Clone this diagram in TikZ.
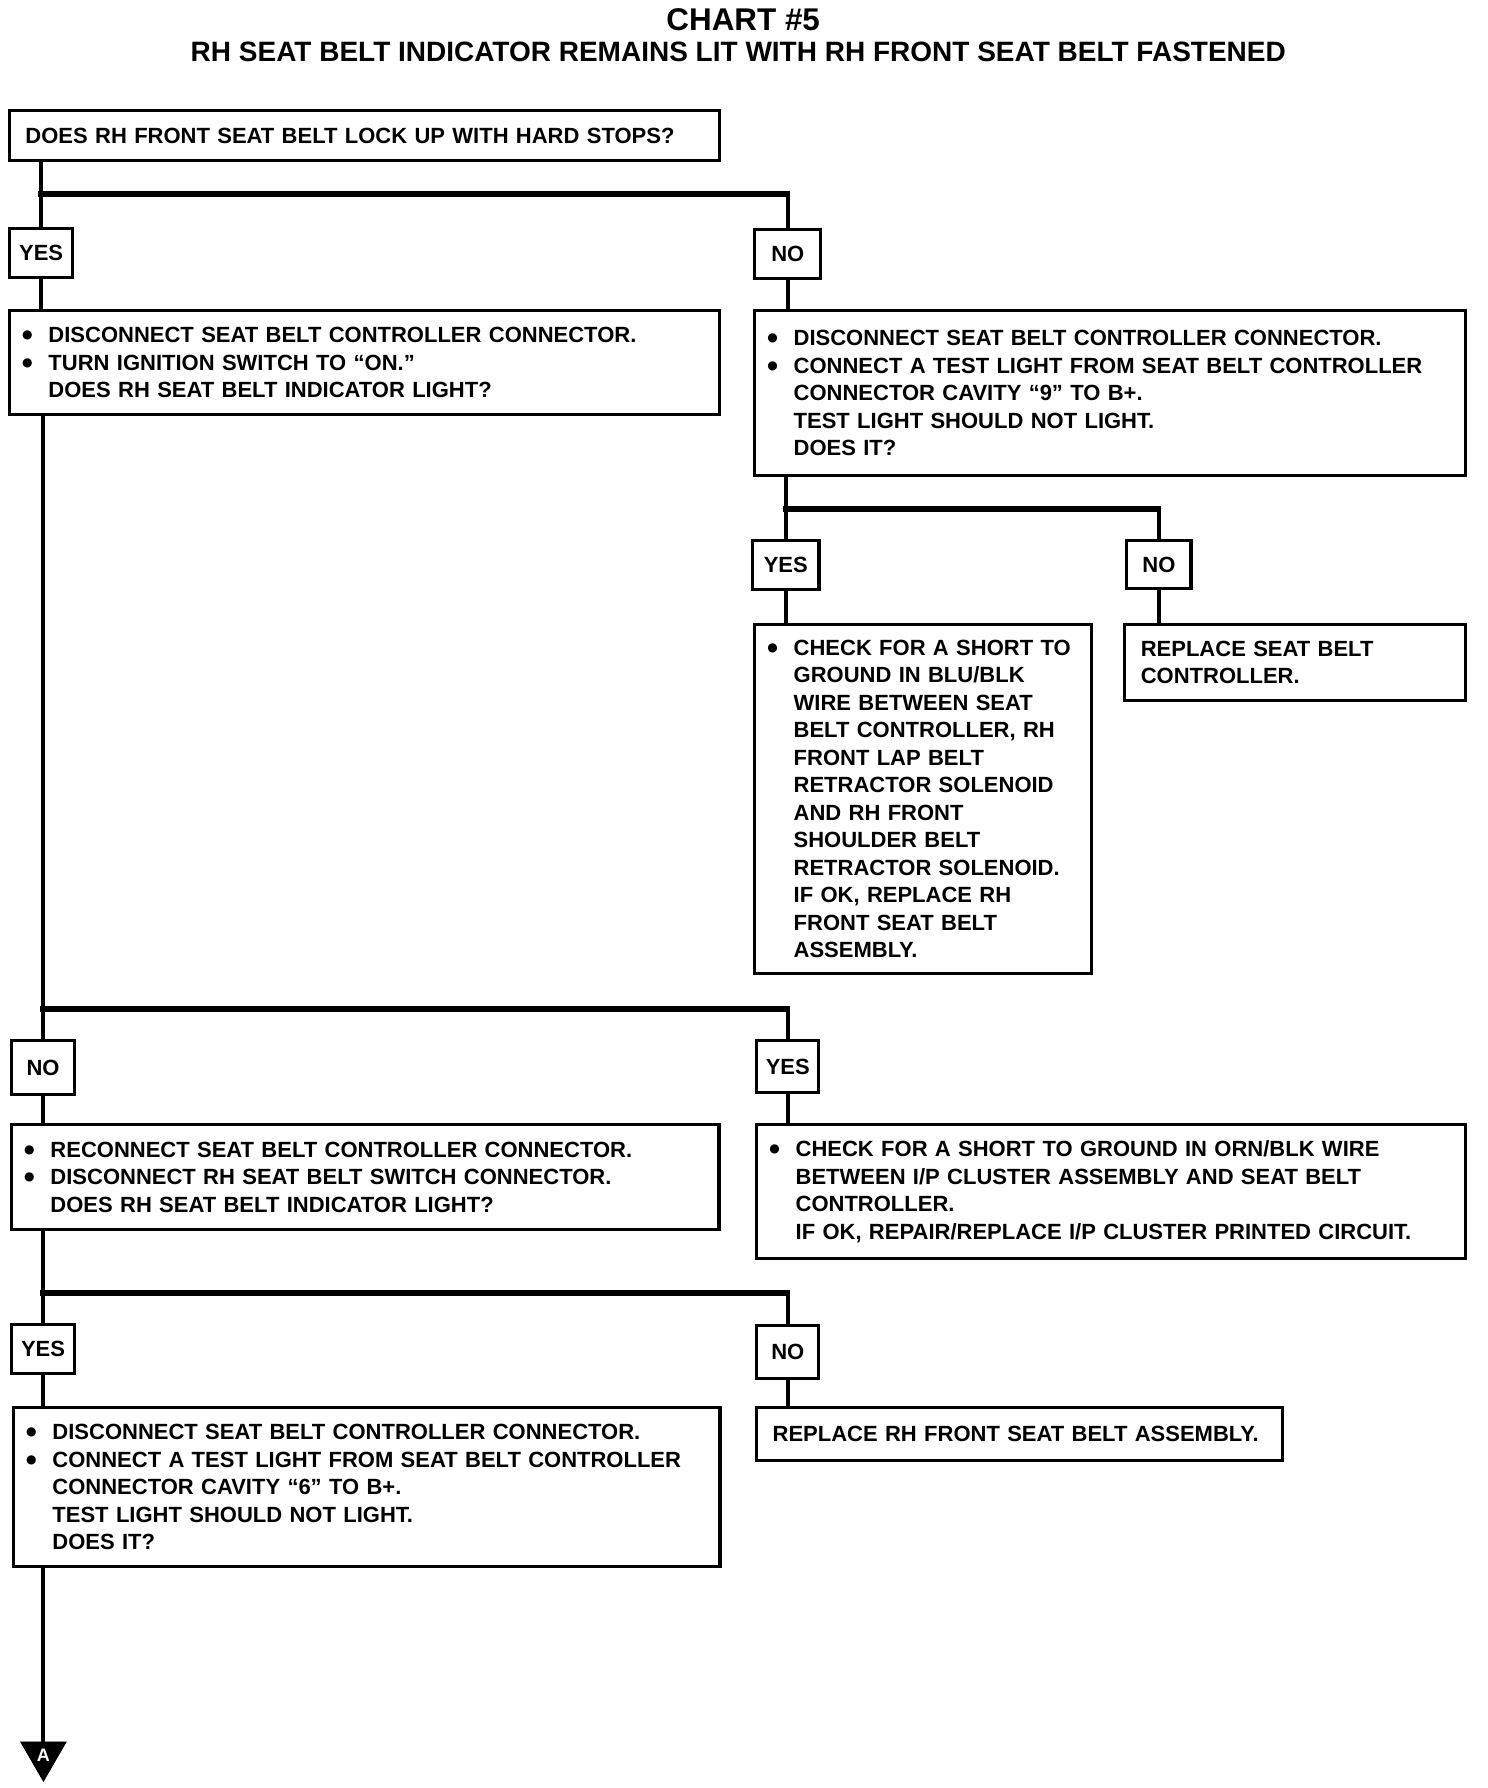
\documentclass[tikz,border=0pt]{standalone}
\usepackage{fontspec}
\setmainfont{Liberation Sans}
\newfontfamily\dejavu{DejaVu Sans}
\usetikzlibrary{shapes.geometric}
\newcommand\bdot{\makebox[14.5pt][l]{\hspace{1.3pt}\raisebox{1.9pt}{\dejavu\fontsize{6}{6}\selectfont ●}}}
\newcommand\indt{\makebox[14.5pt][l]{}}
\begin{document}
\begin{tikzpicture}[x=0.4935pt,y=-0.5pt,
  every node/.style={font=\fontsize{11}{13.75}\selectfont\bfseries},
  bx/.style={draw, line width=1.6pt, anchor=north west, inner xsep=5pt, inner ysep=0pt, align=left},
  lab/.style={draw, line width=1.6pt, anchor=north west, inner sep=0pt, align=center},
  conn/.style={line width=2pt},
  hbar/.style={line width=2.6pt, line cap=rect}]
\useasboundingbox (0,0) rectangle (1507.6,1788);

\node[font=\fontsize{15.7}{18}\selectfont\bfseries] (title) at (753,20) {CHART \#5};
\node[font=\fontsize{14}{16}\selectfont\bfseries] (sub) at (748,52) {RH SEAT BELT INDICATOR REMAINS LIT WITH RH FRONT SEAT BELT FASTENED};

\node[bx, inner xsep=8pt, text width=338.8pt, minimum height=25pt] (q1) at (8,109) {DOES RH FRONT SEAT BELT LOCK UP WITH HARD STOPS?};

\node[lab, minimum width=31.6pt, minimum height=24.5pt] (y1) at (8,227) {YES};
\node[lab, minimum width=33.1pt, minimum height=24.5pt] (n1) at (763,228) {NO};

\node[bx, text width=344.8pt, minimum height=52pt] (b1) at (8,309) {\bdot DISCONNECT SEAT BELT CONTROLLER CONNECTOR.\\
\bdot TURN IGNITION SWITCH TO “ON.”\\
\indt DOES RH SEAT BELT INDICATOR LIGHT?};

\node[bx, text width=345.3pt, minimum height=82.5pt] (b2) at (763,309) {\bdot DISCONNECT SEAT BELT CONTROLLER CONNECTOR.\\
\bdot CONNECT A TEST LIGHT FROM SEAT BELT CONTROLLER\\
\indt CONNECTOR CAVITY “9” TO B+.\\
\indt TEST LIGHT SHOULD NOT LIGHT.\\
\indt DOES IT?};

\node[lab, minimum width=33.1pt, minimum height=24.5pt] (y2) at (761,539) {YES};
\node[lab, minimum width=32.1pt, minimum height=24pt] (n2) at (1140,539) {NO};

\node[bx, text width=158.3pt, minimum height=174.5pt] (b3) at (763,623) {\bdot CHECK FOR A SHORT TO\\
\indt GROUND IN BLU/BLK\\
\indt WIRE BETWEEN SEAT\\
\indt BELT CONTROLLER, RH\\
\indt FRONT LAP BELT\\
\indt RETRACTOR SOLENOID\\
\indt AND RH FRONT\\
\indt SHOULDER BELT\\
\indt RETRACTOR SOLENOID.\\
\indt IF OK, REPLACE RH\\
\indt FRONT SEAT BELT\\
\indt ASSEMBLY.};

\node[bx, inner xsep=8pt, text width=154.3pt, minimum height=38pt] (b4) at (1138,623) {REPLACE SEAT BELT\\CONTROLLER.};

\node[lab, minimum width=31.6pt, minimum height=27pt] (n3) at (10,1039) {NO};
\node[lab, minimum width=31.1pt, minimum height=26pt] (y3) at (765,1039) {YES};

\node[bx, text width=343.8pt, minimum height=52.5pt] (b5) at (10,1123) {\bdot RECONNECT SEAT BELT CONTROLLER CONNECTOR.\\
\bdot DISCONNECT RH SEAT BELT SWITCH CONNECTOR.\\
\indt DOES RH SEAT BELT INDICATOR LIGHT?};

\node[bx, text width=344.3pt, minimum height=67pt] (b6) at (765,1123) {\bdot CHECK FOR A SHORT TO GROUND IN ORN/BLK WIRE\\
\indt BETWEEN I/P CLUSTER ASSEMBLY AND SEAT BELT\\
\indt CONTROLLER.\\
\indt IF OK, REPAIR/REPLACE I/P CLUSTER PRINTED CIRCUIT.};

\node[lab, minimum width=31.6pt, minimum height=24.5pt] (y4) at (10,1323) {YES};
\node[lab, minimum width=31.1pt, minimum height=26.5pt] (n4) at (765,1324) {NO};

\node[bx, text width=343.3pt, minimum height=79.5pt] (b7) at (12,1406) {\bdot DISCONNECT SEAT BELT CONTROLLER CONNECTOR.\\
\bdot CONNECT A TEST LIGHT FROM SEAT BELT CONTROLLER\\
\indt CONNECTOR CAVITY “6” TO B+.\\
\indt TEST LIGHT SHOULD NOT LIGHT.\\
\indt DOES IT?};

\node[bx, inner xsep=8pt, text width=247pt, minimum height=26.5pt] (b8) at (765,1406) {REPLACE RH FRONT SEAT BELT ASSEMBLY.};

\node[regular polygon, regular polygon sides=3, shape border rotate=180, fill=black, draw=black, inner sep=0pt, minimum size=26.2pt, text=white, font=\fontsize{9}{9}\selectfont\bfseries] (tri) at (44,1755) {A};

\coordinate (br1) at (0,194);
\coordinate (br2) at (0,509);
\coordinate (br3) at (0,1009);
\coordinate (br4) at (0,1293);

\draw[conn] (y1.north |- q1.south) -- (y1.north);
\draw[hbar] (y1.north |- br1) -- (n1.north |- br1);
\draw[conn] (n1.north |- br1) -- (n1.north);
\draw[conn] (y1.south) -- (y1.south |- b1.north);
\draw[conn] (n1.south) -- (n1.south |- b2.north);

\draw[conn] (y2.north |- b2.south) -- (y2.north);
\draw[hbar] (y2.north |- br2) -- (n2.north |- br2);
\draw[conn] (n2.north |- br2) -- (n2.north);
\draw[conn] (y2.south) -- (y2.south |- b3.north);
\draw[conn] (n2.south) -- (n2.south |- b4.north);

\draw[conn] (n3.north |- b1.south) -- (n3.north);
\draw[hbar] (n3.north |- br3) -- (y3.north |- br3);
\draw[conn] (y3.north |- br3) -- (y3.north);
\draw[conn] (n3.south) -- (n3.south |- b5.north);
\draw[conn] (y3.south) -- (y3.south |- b6.north);

\draw[conn] (y4.north |- b5.south) -- (y4.north);
\draw[hbar] (y4.north |- br4) -- (n4.north |- br4);
\draw[conn] (n4.north |- br4) -- (n4.north);
\draw[conn] (y4.south) -- (y4.south |- b7.north);
\draw[conn] (n4.south) -- (n4.south |- b8.north);

\draw[conn] (tri.north |- b7.south) -- (tri.north);
\end{tikzpicture}
\end{document}
